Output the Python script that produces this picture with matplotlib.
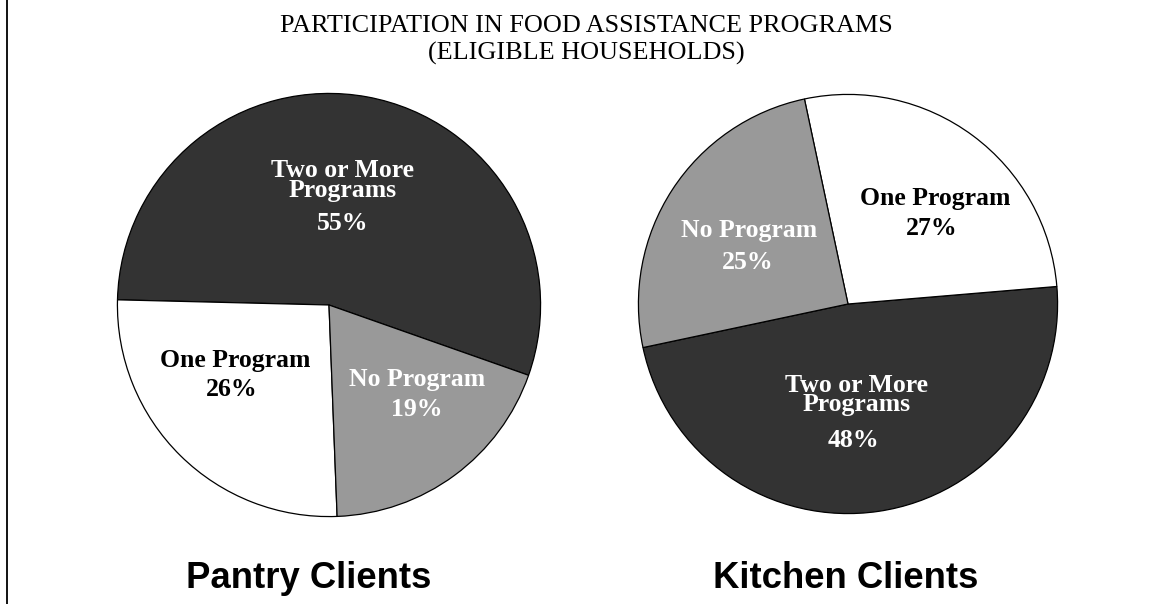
import matplotlib.pyplot as plt
from matplotlib.lines import Line2D

# ── Data ──────────────────────────────────────────────────────────────────────
categories = ["Two or More\nPrograms", "One Program", "No Program"]
pantry_pct = [55, 26, 19]
kitchen_pct = [48, 27, 25]
panel_titles = ["Pantry Clients", "Kitchen Clients"]

# ── Style ─────────────────────────────────────────────────────────────────────
DARK = "#333333"
GREY = "#999999"
WHITE = "#FFFFFF"
slice_colors = [DARK, WHITE, GREY]
text_colors = ["white", "black", "white"]
SERIF = ["Liberation Serif", "DejaVu Serif"]
SANS = ["Liberation Sans", "DejaVu Sans"]

W, H = 1158, 604
fig = plt.figure(figsize=(W / 100, H / 100), dpi=100)

# pie layout in pixels: centre x, centre y (from top), radius, start angle
pies = [
    dict(values=pantry_pct, cx=329, cy=305, r=212, start=-19.4,
         # (name xy, pct xy) in pie units
         pos=[((0.066, 0.59), (0.066, 0.387)),
              ((-0.443, -0.26), (-0.458, -0.40)),
              ((0.415, -0.354), (0.415, -0.495))],
         title_x=309),
    dict(values=kitchen_pct, cx=848, cy=304, r=210, start=-168.0,
         pos=[((0.042, -0.434), (0.028, -0.651)),
              ((0.415, 0.505), (0.40, 0.358)),
              ((-0.472, 0.349), (-0.481, 0.198))],
         title_x=846),
]

for p, title in zip(pies, panel_titles):
    r = p["r"]
    ax = fig.add_axes([(p["cx"] - r) / W, 1 - (p["cy"] + r) / H, 2 * r / W, 2 * r / H])
    ax.pie(p["values"], colors=slice_colors, startangle=p["start"], counterclock=True,
           radius=1, wedgeprops=dict(edgecolor="black", linewidth=0.9))
    ax.set_xlim(-1.002, 1.002)
    ax.set_ylim(-1.002, 1.002)
    ax.set_axis_off()
    for name, val, (nxy, pxy), tc in zip(categories, p["values"], p["pos"], text_colors):
        ax.text(nxy[0], nxy[1], name, ha="center", va="center", color=tc,
                fontsize=18.5, fontweight="bold", family=SERIF, linespacing=0.82)
        ax.text(pxy[0], pxy[1], f"{val}%", ha="center", va="center", color=tc,
                fontsize=18.5, fontweight="bold", family=SERIF)
    fig.text(p["title_x"] / W, 1 - 588 / H, title, ha="center", va="baseline",
             fontsize=26.3, fontweight="bold", family=SANS)

# ── Title ─────────────────────────────────────────────────────────────────────
fig.text(586 / W, 1 - 32 / H, "PARTICIPATION IN FOOD ASSISTANCE PROGRAMS",
         ha="center", va="baseline", fontsize=18.8, family=SERIF)
fig.text(586 / W, 1 - 60 / H, "(ELIGIBLE HOUSEHOLDS)",
         ha="center", va="baseline", fontsize=18.8, family=SERIF)

# left frame rule
fig.add_artist(Line2D([6.5 / W, 6.5 / W], [0, 1], color="black", linewidth=1.3,
                      transform=fig.transFigure))

plt.savefig("out.png", dpi=100)
